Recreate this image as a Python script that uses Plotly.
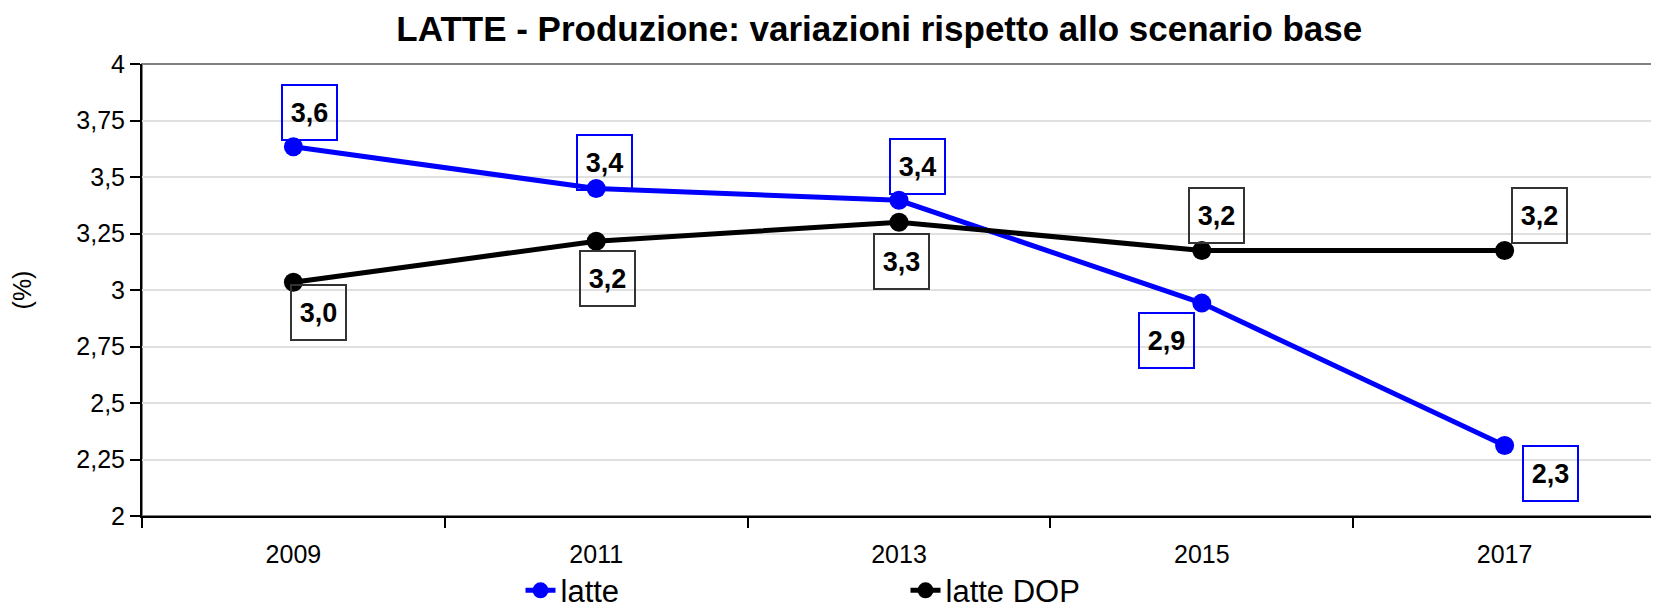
import plotly.graph_objects as go

years = ["2009", "2011", "2013", "2015", "2017"]
latte = [3.634, 3.449, 3.397, 2.942, 2.312]
latte_dop = [3.034, 3.216, 3.300, 3.175, 3.175]
latte_labels = ["3,6", "3,4", "3,4", "2,9", "2,3"]
dop_labels = ["3,0", "3,2", "3,3", "3,2", "3,2"]
y_ticks = [2, 2.25, 2.5, 2.75, 3, 3.25, 3.5, 3.75, 4]

# label box offsets (px) relative to points: (xshift, yshift)
latte_off = [(16, 34), (8, 26), (18, 34), (-35, -37), (46, -28)]
dop_off = [(25, -30), (11, -37), (2, -39), (15, 35), (35, 35)]

FONT = "Liberation Sans, Arial, sans-serif"
BLUE = "#0000FF"

fig = go.Figure()
fig.add_trace(go.Scatter(x=years, y=latte, name="latte", mode="lines+markers",
                         line=dict(color=BLUE, width=5),
                         marker=dict(color=BLUE, size=19)))
fig.add_trace(go.Scatter(x=years, y=latte_dop, name="latte DOP", mode="lines+markers",
                         line=dict(color="black", width=5),
                         marker=dict(color="black", size=19)))

anns = []
for ys, labs, offs, bc in [(latte, latte_labels, latte_off, BLUE),
                           (latte_dop, dop_labels, dop_off, "#333333")]:
    for i, (y, t, (dx, dy)) in enumerate(zip(ys, labs, offs)):
        anns.append(dict(x=i, y=y, xref="x", yref="y", text="<b>%s</b>" % t,
                         showarrow=False, xanchor="center", yanchor="middle",
                         xshift=dx, yshift=dy, width=53, height=53,
                         bordercolor=bc, borderwidth=2, borderpad=0,
                         font=dict(family=FONT, size=27, color="black")))

fig.update_layout(
    width=1651, height=603,
    paper_bgcolor="white", plot_bgcolor="white",
    separators=",.",
    margin=dict(l=134, r=3, t=56, b=95, autoexpand=False),
    title=dict(text="<b>LATTE - Produzione: variazioni rispetto allo scenario base</b>",
               x=0.487, xref="paper", xanchor="center", y=0.966, yanchor="middle",
               font=dict(family=FONT, size=35, color="black")),
    font=dict(family=FONT, color="black"),
    showlegend=True,
    legend=dict(orientation="h", x=0.25, xanchor="left", y=-0.225, yanchor="bottom",
                font=dict(family=FONT, size=31, color="black"),
                entrywidth=340, bgcolor="rgba(0,0,0,0)"),
    annotations=anns,
    shapes=[dict(type="rect", xref="paper", yref="paper", x0=0, x1=1, y0=0, y1=1,
                 line=dict(color="#808080", width=2), layer="below")],
)
fig.update_xaxes(type="category", range=[-0.5, 4.5], showgrid=False,
                 showline=True, linecolor="black", linewidth=2,
                 ticks="outside", tickson="boundaries", ticklen=10, tickwidth=2,
                 tickcolor="black", tickfont=dict(family=FONT, size=25, color="black"),
                 ticklabelstandoff=15, automargin=False)
fig.update_yaxes(range=[2, 4], tickvals=y_ticks, showgrid=True, gridcolor="#e0e0e0",
                 gridwidth=1.5, zeroline=False,
                 showline=True, linecolor="black", linewidth=2,
                 ticks="outside", ticklen=10, tickwidth=2, tickcolor="black",
                 tickfont=dict(family=FONT, size=25, color="black"),
                 automargin=False,
                 title=dict(text="(%)", font=dict(family=FONT, size=25, color="black"),
                            standoff=44))

fig.write_html("out.html")
